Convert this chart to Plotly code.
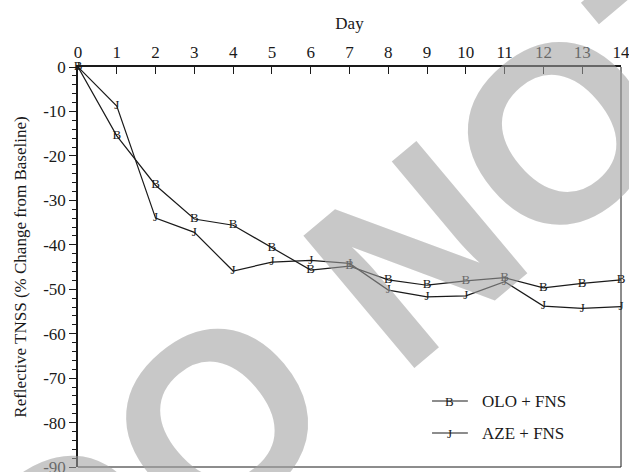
import plotly.graph_objects as go

days = list(range(0, 15))
olo_fns = [0, -15.5, -26.6, -34.2, -35.6, -40.6, -45.7, -44.8, -47.9, -49.1, -48.1, -47.4, -49.7, -48.7, -47.9]
aze_fns = [0, -8.8, -34.0, -37.2, -45.9, -43.9, -43.5, -44.2, -50.2, -51.7, -51.5, -48.3, -53.8, -54.3, -53.9]
series_names = ["OLO + FNS", "AZE + FNS"]
series_letters = ["B", "J"]
y_ticks = [0, -10, -20, -30, -40, -50, -60, -70, -80, -90]
y_ticktext = ["0", "-10", "-20", "-30", "-40", "-50", "-60", "-70", "-80", "-90"]
watermark = "DO NOT COPY"

FONT = "Liberation Serif"
INK = "#1a1a1a"

fig = go.Figure()
for vals, letter in zip([olo_fns, aze_fns], series_letters):
    fig.add_trace(go.Scatter(
        x=days, y=vals, mode="lines+text",
        text=[letter] * len(days), textposition="middle center",
        textfont=dict(family=FONT, size=13, color=INK),
        line=dict(color=INK, width=1.2),
        cliponaxis=False, showlegend=False, hoverinfo="skip",
    ))

fig.update_layout(
    width=629, height=472,
    margin=dict(l=78, r=8, t=67, b=5),
    paper_bgcolor="white", plot_bgcolor="white",
    font=dict(family=FONT, size=17, color=INK),
    showlegend=False,
)
fig.update_xaxes(
    side="top", range=[0, 14], tickvals=days, automargin=False,
    ticks="inside", ticklen=7, tickwidth=1, tickcolor=INK,
    showline=True, linewidth=1.5, linecolor=INK,
    showgrid=False, zeroline=False, ticklabeloverflow="allow",
    tickfont=dict(family=FONT, size=17, color=INK),
    title=dict(text="Day", font=dict(family=FONT, size=17, color=INK), standoff=10),
)
fig.update_yaxes(
    range=[-90, 0], tickvals=y_ticks, ticktext=y_ticktext, automargin=False,
    ticks="outside", ticklen=7, tickwidth=1, tickcolor=INK,
    minor=dict(dtick=2, tick0=0, ticks="outside", ticklen=4, tickwidth=1, tickcolor=INK),
    showline=True, linewidth=1.5, linecolor=INK,
    showgrid=False, zeroline=False, ticklabeloverflow="allow",
    tickfont=dict(family=FONT, size=17, color=INK),
    title=dict(text="Reflective TNSS (% Change from Baseline)", font=dict(family=FONT, size=17, color=INK), standoff=12),
)

# right and bottom border
fig.add_shape(type="line", xref="paper", yref="paper", x0=1, x1=1, y0=0, y1=1,
              line=dict(color=INK, width=1))
fig.add_shape(type="line", xref="paper", yref="paper", x0=0, x1=1, y0=0, y1=0,
              line=dict(color=INK, width=1))

# legend (manual)
leg_y = [0.165, 0.085]
for yy, letter, name in zip(leg_y, series_letters, series_names):
    fig.add_shape(type="line", xref="paper", yref="paper", x0=0.652, x1=0.718, y0=yy, y1=yy,
                  line=dict(color=INK, width=1.2))
    fig.add_annotation(xref="paper", yref="paper", x=0.685, y=yy, text=letter, showarrow=False,
                       xanchor="center", yanchor="middle",
                       font=dict(family=FONT, size=13, color=INK))
    fig.add_annotation(xref="paper", yref="paper", x=0.740, y=yy, text=name, showarrow=False,
                       xanchor="left", yanchor="middle",
                       font=dict(family=FONT, size=17, color=INK))

# watermark overlay
fig.add_annotation(xref="paper", yref="paper", x=1.103, y=1.0825, text=watermark,
                   showarrow=False, xanchor="center", yanchor="middle", textangle=-40,
                   font=dict(family="Liberation Sans", size=251, color="rgba(160,160,160,0.58)", weight="bold"))

fig.write_html(
    "out.html",
    post_script="document.documentElement.style.overflow='hidden';document.body.style.overflow='hidden';document.body.style.margin='0';",
    config={"displayModeBar": False, "responsive": False},
)
